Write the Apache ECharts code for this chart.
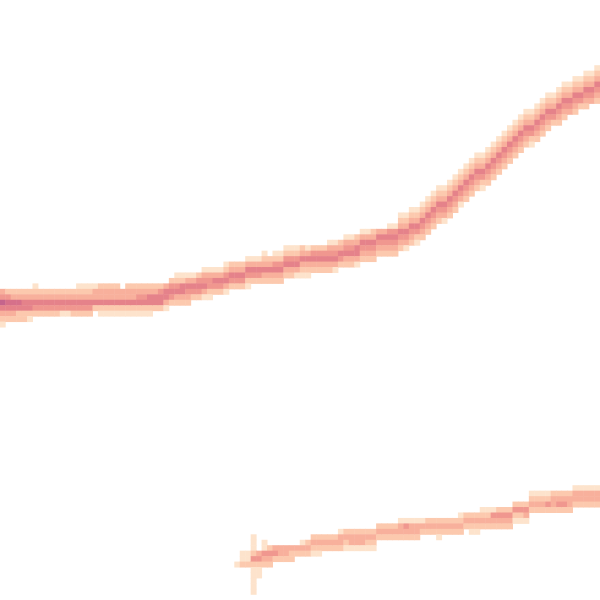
<!DOCTYPE html>
<html>
<head>
<meta charset="utf-8">
<script src="https://cdn.jsdelivr.net/npm/echarts@6/dist/echarts.min.js"></script>
<style>html,body{margin:0;padding:0;background:#fff}#c{width:600px;height:600px}</style>
</head>
<body>
<div id="c"></div>
<script>
// grid of 110 x 110 density cells (column index, row index from top)
const nCols = 110;
const nRows = 110;

// upper trace: first occupied row of each column, and the density levels from that row downward
const upperTop = [53,53,53,53,53,53,52,53,53,53,53,53,53,53,52,52,52,52,52,52,
  52,52,53,52,52,52,52,52,52,52,52,51,50,50,50,50,50,49,49,49,
  49,48,48,48,48,47,47,47,46,47,46,46,45,45,45,45,45,45,45,45,
  44,44,44,43,43,43,42,42,42,42,42,41,41,39,39,38,38,37,36,35,
  34,34,33,32,31,30,29,28,28,27,26,25,24,23,22,21,20,20,19,18,
  17,17,16,15,15,14,14,13,13,12];
const upperLevels = ["3475321","246532","236532","236522","235522","235521","123542","23542","23542","23542",
  "23542","23541","23541","23542","123542","123542","123542","13352","233521","233521",
  "233521","233521","33521","233521","233521","234521","234521","235521","23552","24552",
  "35531","24542","124532","125532","135432","13542","24542","134531","134421","13542",
  "13542","124531","23542","23542","23542","135421","13542","13542","123532","23532",
  "124532","124532","124532","124532","124531","235321","135321","24532","24532","24532",
  "134532","134531","23542","134532","134532","235531","135432","135432","235432","35432",
  "35432","145432","145432","1235432","1235431","1235432","1235421","1235432","1235432","1235432",
  "1235432","1235431","1235432","1235432","1235431","1235432","1235432","1235432","1235421","1235432",
  "1235432","1235432","1235432","1235432","1235432","1235432","1235432","1235421","1235432","1235432",
  "1235432","123542","1235432","1235432","123543","1235432","123542","1235432","123543","1235432"];

// lower trace: starts at column 43
const lowerFirstCol = 43;
const lowerTop = [103,101,101,98,101,99,100,100,100,100,100,100,99,99,98,98,98,98,98,97,
  97,97,97,97,97,97,96,96,96,96,95,95,95,95,95,95,95,95,95,95,
  95,94,94,94,94,93,93,93,93,93,93,92,92,92,90,90,90,90,90,90,
  90,90,89,89,89,89,89];
const lowerLevels = ["1","112","112......1","11124211111","34211","11432","2432","342","332","332",
  "322","32","132","232","2321","2321","232","232","232","1332",
  "2321","2331","2331","2331","2321","2321","232","232","232","232",
  "1332","1432","1332","1332","132","232","232","2321","232","232",
  "232","1232","232","2321","2321","1232","1232","1432","2432","2432",
  "2432","2421","2421","2431","1232","1232","1232","1242","2332","2342",
  "2342","2332","1332","1332","1332","1332","1332"];

const levelColors = ["#fde3cc","#fcc9ae","#f8b09c","#f0978f","#e5828a","#d6708a","#c5648c"];

const data = [];
function addColumn(col, top, levels) {
  for (let k = 0; k < levels.length; k++) {
    const ch = levels[k];
    if (ch === '.') continue;
    data.push([col, top + k, Number(ch)]);
  }
}
for (let c = 0; c < upperTop.length; c++) addColumn(c, upperTop[c], upperLevels[c]);
for (let i = 0; i < lowerTop.length; i++) addColumn(lowerFirstCol + i, lowerTop[i], lowerLevels[i]);

const xCats = Array.from({length: nCols}, (_, i) => i);
const yCats = Array.from({length: nRows}, (_, i) => i);

const chart = echarts.init(document.getElementById('c'), null, {renderer: 'canvas'});
chart.setOption({
  animation: false,
  backgroundColor: '#ffffff',
  grid: {left: 0, top: -5, width: 605, height: 605},
  xAxis: {type: 'category', data: xCats, show: false},
  yAxis: {type: 'category', data: yCats, inverse: true, show: false},
  visualMap: {
    type: 'piecewise', show: false, dimension: 2,
    pieces: levelColors.map((col, i) => ({value: i + 1, color: col}))
  },
  series: [{
    type: 'heatmap',
    data: data,
    itemStyle: {borderWidth: 0},
    emphasis: {disabled: true}
  }]
});
</script>
</body>
</html>
